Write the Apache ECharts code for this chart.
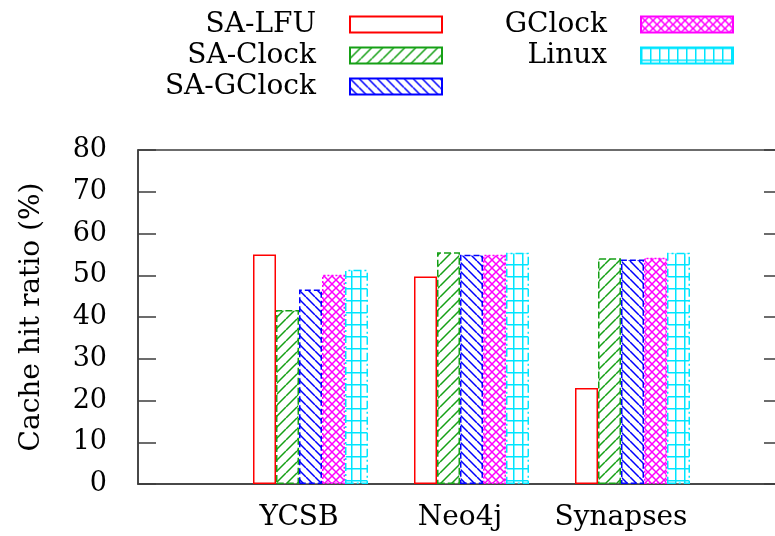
<!DOCTYPE html>
<html><head><meta charset="utf-8">
<script src="https://cdn.jsdelivr.net/npm/echarts@6/dist/echarts.min.js"></script>
<style>html,body{margin:0;padding:0;background:#fff}#c{width:775px;height:536px}</style>
</head><body><div id="c"></div>
<script>
// ---- data ----
const categories = ['YCSB', 'Neo4j', 'Synapses'];
const seriesNames = ['SA-LFU', 'SA-Clock', 'SA-GClock', 'GClock', 'Linux'];
const saLfu    = [55.0, 49.7, 23.0];
const saClock  = [41.7, 55.5, 54.1];
const saGClock = [46.6, 54.9, 53.8];
const gClock   = [50.1, 54.9, 54.2];
const linux    = [51.3, 55.4, 55.4];
const yTicks = [0, 10, 20, 30, 40, 50, 60, 70, 80];
const yName = 'Cache hit ratio (%)';

// ---- patterns ----
function tile(w, h, color, draw) {
  const c = document.createElement('canvas');
  c.width = w; c.height = h;
  const ctx = c.getContext('2d');
  ctx.fillStyle = '#fff'; ctx.fillRect(0, 0, w, h);
  ctx.strokeStyle = color; ctx.lineWidth = 1.5;
  draw(ctx, w, h);
  return { image: c, repeat: 'repeat' };
}
function slash(ctx, w, h) { ctx.beginPath(); for (let k = -1; k <= 1; k++) { ctx.moveTo(k * w, h); ctx.lineTo(k * w + w, 0); } ctx.stroke(); }
function backslash(ctx, w, h) { ctx.beginPath(); for (let k = -1; k <= 1; k++) { ctx.moveTo(k * w, 0); ctx.lineTo(k * w + w, h); } ctx.stroke(); }
function cross(ctx, w, h) { slash(ctx, w, h); backslash(ctx, w, h); }
function grid(ctx, w, h) { ctx.beginPath(); ctx.moveTo(0.75, 0); ctx.lineTo(0.75, h); ctx.moveTo(0, 0.75); ctx.lineTo(w, 0.75); ctx.stroke(); }

const colors = ['#ff0000', '#16a016', '#0000ff', '#ff00ff', '#00e5ff'];
const fills = [
  '#ffffff',
  tile(11, 11, colors[1], slash),
  tile(9, 9, colors[2], backslash),
  tile(8, 8, colors[3], cross),
  tile(9, 12, colors[4], grid)
];
const dashes = ['solid', [7, 3], [6, 3], [2, 2], [8, 3, 2, 3]];
const values = [saLfu, saClock, saGClock, gClock, linux];

const axisColor = '#3c3c3c';
const font = 'DejaVu Serif';
const pad = v => ['-'].concat(v, ['-']);

const series = [{
  name: '_pad', type: 'bar', barWidth: 23, data: pad(categories.map(() => '-')),
  itemStyle: { color: 'transparent' }, silent: true
}];
seriesNames.forEach((n, i) => {
  series.push({
    name: n, type: 'bar', barWidth: 23, barGap: '0%',
    data: pad(values[i]),
    itemStyle: { color: fills[i], borderColor: colors[i], borderWidth: 1.5, borderType: dashes[i] }
  });
});

const legendText = { fontFamily: font, fontSize: 28, color: '#000', lineHeight: 31, padding: [0, 29, 0, 0] };
const chart = echarts.init(document.getElementById('c'));
chart.setOption({
  animation: false,
  backgroundColor: '#fff',
  legend: [
    { data: seriesNames.slice(0, 3), orient: 'vertical', align: 'right', right: 332, top: 9, padding: 0,
      itemGap: 0, itemWidth: 92, itemHeight: 16, icon: 'rect', textStyle: legendText, selectedMode: false },
    { data: seriesNames.slice(3), orient: 'vertical', align: 'right', right: 41, top: 9, padding: 0,
      itemGap: 0, itemWidth: 92, itemHeight: 16, icon: 'rect', textStyle: legendText, selectedMode: false }
  ],
  grid: { left: 138, right: -7, top: 150, bottom: 52, show: true, borderColor: axisColor, borderWidth: 1.5,
          backgroundColor: 'transparent', outerBoundsMode: 'none', containLabel: false },
  xAxis: {
    type: 'category', boundaryGap: false, data: [''].concat(categories, ['']),
    axisLine: { lineStyle: { color: axisColor, width: 1.5 } },
    axisTick: { show: false },
    axisLabel: { interval: 0, fontFamily: font, fontSize: 28, color: '#000', margin: 20 },
    splitLine: { show: false }
  },
  yAxis: [
    { type: 'value', min: yTicks[0], max: yTicks[yTicks.length - 1], interval: yTicks[1] - yTicks[0],
      name: yName, nameLocation: 'middle', nameGap: 92,
      nameTextStyle: { fontFamily: font, fontSize: 28, color: '#000' },
      axisLine: { show: true, lineStyle: { color: axisColor, width: 1.5 } },
      axisTick: { show: true, inside: true, length: 18, lineStyle: { color: axisColor, width: 1.5 } },
      axisLabel: { fontFamily: font, fontSize: 27, color: '#000', margin: 31 },
      splitLine: { show: false } },
    { type: 'value', position: 'right', min: yTicks[0], max: yTicks[yTicks.length - 1], interval: yTicks[1] - yTicks[0],
      axisLine: { show: true, lineStyle: { color: axisColor, width: 1.5 } },
      axisTick: { show: true, inside: true, length: 18, lineStyle: { color: axisColor, width: 1.5 } },
      axisLabel: { show: false }, splitLine: { show: false } }
  ],
  series: series
});
</script></body></html>
